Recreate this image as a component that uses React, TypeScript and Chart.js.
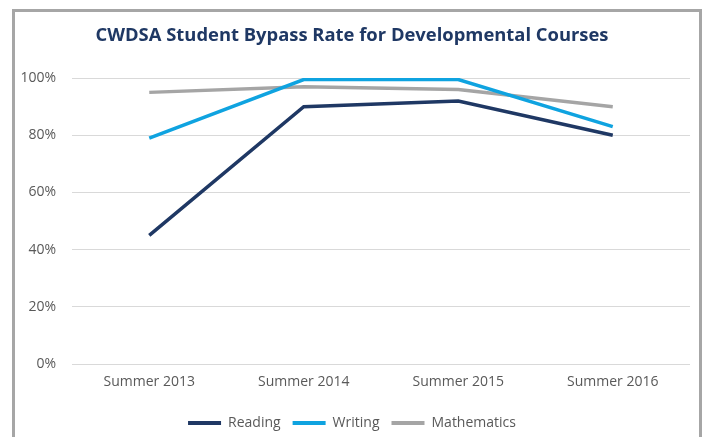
import React, { useEffect, useRef } from "react";
import { Chart, registerables } from "chart.js";
Chart.register(...registerables);

const categories = ["Summer 2013", "Summer 2014", "Summer 2015", "Summer 2016"];
const reading = [45, 90, 92, 80];
const writing = [79, 99.5, 99.5, 83];
const mathematics = [95, 97, 96, 90];
const seriesNames = ["Reading", "Writing", "Mathematics"];
const seriesColors = ["#1F3864", "#0FA3E0", "#A5A5A5"];
const titleText = "CWDSA Student Bypass Rate for Developmental Courses";

const FONT = "'Open Sans', sans-serif";

export default function App() {
  const ref = useRef<HTMLCanvasElement | null>(null);
  useEffect(() => {
    if (!ref.current) return;
    const data = [reading, writing, mathematics];
    const chart = new Chart(ref.current, {
      type: "line",
      data: {
        labels: categories,
        datasets: seriesNames.map((n, i) => ({
          label: n,
          data: data[i],
          borderColor: seriesColors[i],
          backgroundColor: seriesColors[i],
          borderWidth: 3.5,
          pointRadius: 0,
          tension: 0,
        })),
      },
      options: {
        animation: false,
        responsive: false,
        maintainAspectRatio: false,
        layout: { padding: { left: 14, right: 14, top: 0, bottom: -3 } },
        plugins: {
          title: {
            display: true,
            text: titleText,
            color: "#1F3864",
            font: { family: FONT, size: 18.4, weight: "bold" },
            padding: { top: 25, bottom: 31 },
          },
          legend: {
            position: "bottom",
            labels: {
              color: "#595959",
              font: { family: FONT, size: 14 },
              boxWidth: 33,
              boxHeight: 4,
              padding: 12,
              generateLabels: (c: any) =>
                c.data.datasets.map((d: any, i: number) => ({
                  text: d.label,
                  fillStyle: d.borderColor,
                  strokeStyle: d.borderColor,
                  lineWidth: 0,
                  fontColor: "#595959",
                  datasetIndex: i,
                  hidden: false,
                })),
            },
          },
          tooltip: { enabled: false },
        },
        scales: {
          x: {
            offset: true,
            afterFit: (s: any) => {
              s.height = 40;
            },
            grid: { display: false, offset: true },
            border: { display: false },
            ticks: { color: "#595959", font: { family: FONT, size: 14 }, padding: 2 },
          },
          y: {
            min: 0,
            max: 100,
            afterFit: (s: any) => {
              s.width = 58;
            },
            grid: { color: "#D9D9D9", drawTicks: false, lineWidth: 1 },
            border: { display: false },
            ticks: {
              stepSize: 20,
              color: "#595959",
              font: { family: FONT, size: 14 },
              padding: 16,
              callback: (v: any) => v + "%",
            },
          },
        },
      },
    });
    return () => chart.destroy();
  }, []);
  return (
    <div style={{ position: "absolute", left: 0, top: 0, width: 704, height: 437, overflow: "hidden", background: "#fff" }}>
      <div
        style={{
          position: "absolute",
          left: 12,
          top: 9,
          width: 684,
          height: 460,
          border: "3px solid #A6A6A6",
        }}
      />
      <canvas ref={ref} width={704} height={437} style={{ position: "absolute", left: 0, top: 0 }} />
    </div>
  );
}
